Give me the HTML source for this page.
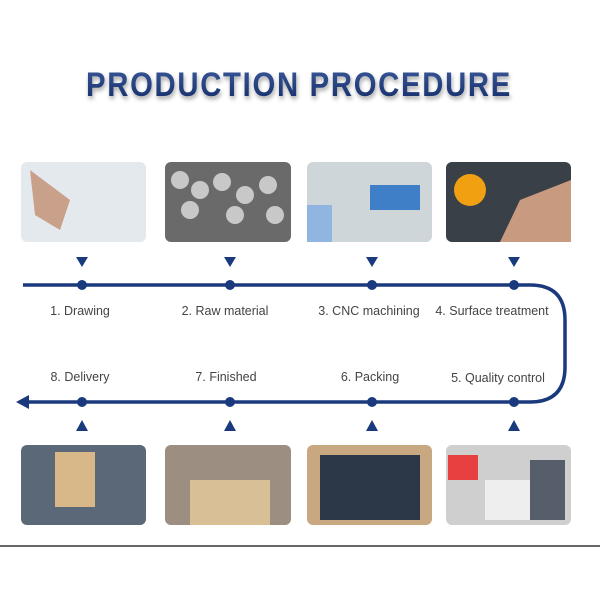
<!DOCTYPE html>
<html><head><style>
body{margin:0;background:#fff;width:600px;height:600px;overflow:hidden;font-family:"Liberation Sans",sans-serif}
</style></head><body>
<svg width="600" height="600" viewBox="0 0 600 600" xmlns="http://www.w3.org/2000/svg">
<defs>
<linearGradient id="t" x1="0" y1="0" x2="0" y2="1"><stop offset="0" stop-color="#3a5a9a"/><stop offset="1" stop-color="#142a66"/></linearGradient>
<filter id="sh"><feDropShadow dx="1" dy="3" stdDeviation="2" flood-color="#000" flood-opacity="0.35"/></filter>
</defs>
<text x="299" y="96" text-anchor="middle" font-family="Liberation Sans" font-weight="bold" font-size="34" fill="url(#t)" filter="url(#sh)" letter-spacing="2" textLength="426" lengthAdjust="spacingAndGlyphs">PRODUCTION PROCEDURE</text>
<!-- top images -->
<rect x="21" y="162" width="125" height="80" rx="6" fill="#e4e9ee"/>
<path d="M30 170 L70 200 L60 230 L35 215Z" fill="#c9a08a"/>
<rect x="165" y="162" width="126" height="80" rx="6" fill="#6a6a6a"/>
<g fill="#c8c8c8"><circle cx="180" cy="180" r="9"/><circle cx="200" cy="190" r="9"/><circle cx="222" cy="182" r="9"/><circle cx="245" cy="195" r="9"/><circle cx="268" cy="185" r="9"/><circle cx="190" cy="210" r="9"/><circle cx="235" cy="215" r="9"/><circle cx="275" cy="215" r="9"/></g>
<rect x="307" y="162" width="125" height="80" rx="6" fill="#cfd6da"/>
<rect x="370" y="185" width="50" height="25" fill="#3f7fc8"/>
<rect x="307" y="205" width="25" height="37" fill="#8fb5e0"/>
<rect x="446" y="162" width="125" height="80" rx="6" fill="#3a4048"/>
<circle cx="470" cy="190" r="16" fill="#f0a010"/>
<path d="M520 200 L571 180 L571 242 L500 242Z" fill="#c89a80"/>
<!-- bottom images -->
<rect x="21" y="445" width="125" height="80" rx="6" fill="#5a6878"/>
<rect x="55" y="452" width="40" height="55" fill="#d8b888"/>
<rect x="165" y="445" width="126" height="80" rx="6" fill="#9c8e80"/>
<rect x="190" y="480" width="80" height="45" fill="#d9bf95"/>
<rect x="307" y="445" width="125" height="80" rx="6" fill="#c8a880"/>
<rect x="320" y="455" width="100" height="65" fill="#2c3848"/>
<rect x="446" y="445" width="125" height="80" rx="6" fill="#cfcfcf"/>
<rect x="448" y="455" width="30" height="25" fill="#e84040"/>
<rect x="485" y="480" width="45" height="40" fill="#eeeeee"/>
<rect x="530" y="460" width="35" height="60" fill="#555e6a"/>
<!-- path -->
<path d="M23 285 H530 Q565 285 565 320 V367 Q565 402 530 402 H28" fill="none" stroke="#1b3a7e" stroke-width="3.5"/>
<polygon points="16,402 29,395 29,409" fill="#1b3a7e"/>
<g fill="#1b3a7e">
<circle cx="82" cy="285" r="5"/><circle cx="230" cy="285" r="5"/><circle cx="372" cy="285" r="5"/><circle cx="514" cy="285" r="5"/>
<circle cx="82" cy="402" r="5"/><circle cx="230" cy="402" r="5"/><circle cx="372" cy="402" r="5"/><circle cx="514" cy="402" r="5"/>
<polygon points="76,257 88,257 82,267"/><polygon points="224,257 236,257 230,267"/><polygon points="366,257 378,257 372,267"/><polygon points="508,257 520,257 514,267"/>
<polygon points="76,431 88,431 82,420"/><polygon points="224,431 236,431 230,420"/><polygon points="366,431 378,431 372,420"/><polygon points="508,431 520,431 514,420"/>
</g>
<g font-size="12.5" fill="#444" text-anchor="middle">
<text x="80" y="315">1. Drawing</text><text x="225" y="315">2. Raw material</text><text x="369" y="315">3. CNC machining</text><text x="492" y="315">4. Surface treatment</text>
<text x="80" y="381">8. Delivery</text><text x="226" y="381">7. Finished</text><text x="370" y="381">6. Packing</text><text x="498" y="382">5. Quality control</text>
</g>
<line x1="0" y1="546" x2="600" y2="546" stroke="#333" stroke-width="1.5"/>
</svg>
</body></html>
